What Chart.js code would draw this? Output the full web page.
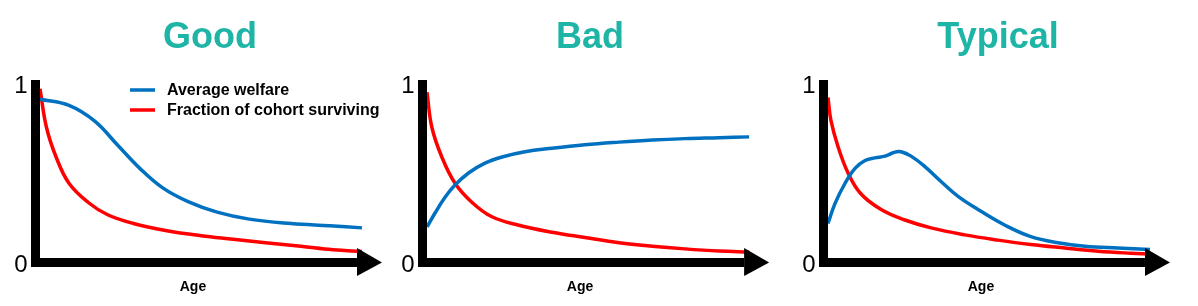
<!DOCTYPE html>
<html>
<head>
<meta charset="utf-8">
<script src="https://cdn.jsdelivr.net/npm/chart.js@4.4.1/dist/chart.umd.min.js"></script>
<style>
body { margin: 0; background: #fff; width: 1198px; height: 306px; overflow: hidden; position: relative; }
canvas { position: absolute; top: 0; }
</style>
</head>
<body>
<canvas id="goodChart" width="400" height="306" style="left:0px"></canvas>
<canvas id="badChart" width="400" height="306" style="left:400px"></canvas>
<canvas id="typicalChart" width="400" height="306" style="left:798px"></canvas>
<script>
// Panel titles and labels
var panelTitles = ['Good', 'Bad', 'Typical'];
var seriesNames = ['Average welfare', 'Fraction of cohort surviving'];
var yTickValues = [0, 1];
var yTickLabels = ['0', '1'];
var xAxisLabel = 'Age';

// Good: welfare stays high, falls late
var goodWelfareAge = [0, 9, 17, 24, 31, 38, 46, 55, 65, 78, 90, 100];
var goodWelfare    = [0.93, 0.895, 0.805, 0.67, 0.535, 0.425, 0.345, 0.285, 0.245, 0.22, 0.207, 0.195];
var goodSurvAge    = [0, 2, 5, 9, 15, 21, 29, 39, 50, 60, 70, 81, 91, 100];
var goodSurvival   = [0.99, 0.77, 0.60, 0.45, 0.34, 0.27, 0.22, 0.18, 0.15, 0.13, 0.11, 0.09, 0.07, 0.06];

// Bad: welfare starts low, rises
var badWelfareAge  = [0, 2.5, 5.6, 8.7, 13, 18, 23.3, 30.4, 38.8, 49, 59.6, 69.9, 80.1, 90.7, 100];
var badWelfare     = [0.20, 0.28, 0.37, 0.44, 0.51, 0.565, 0.60, 0.63, 0.65, 0.67, 0.685, 0.697, 0.705, 0.71, 0.715];
var badSurvAge     = [0, 1.5, 4.6, 8.7, 14, 20, 28.5, 38.8, 49, 59.6, 69.9, 80, 90.7, 100];
var badSurvival    = [0.97, 0.77, 0.60, 0.45, 0.34, 0.26, 0.21, 0.17, 0.14, 0.11, 0.09, 0.075, 0.063, 0.057];

// Typical: welfare rises, peaks early, then declines
var typWelfareAge  = [0, 2.2, 5.3, 8.4, 11.5, 14.6, 17.7, 20.8, 22.7, 25.8, 30.1, 35.1, 40.4, 47.5, 55, 63, 71.4, 79.8, 90, 100];
var typWelfare     = [0.22, 0.335, 0.45, 0.535, 0.58, 0.595, 0.605, 0.628, 0.63, 0.605, 0.545, 0.46, 0.375, 0.29, 0.21, 0.145, 0.11, 0.09, 0.08, 0.072];
var typSurvAge     = [0, 0.9, 3.1, 6.2, 10.2, 16.5, 23.9, 32, 42.5, 52.8, 63, 73.6, 83.9, 94.1, 100];
var typSurvival    = [0.94, 0.81, 0.66, 0.51, 0.39, 0.30, 0.24, 0.195, 0.155, 0.125, 0.10, 0.08, 0.062, 0.05, 0.045];

var welfareColor = '#0070c0';
var survivalColor = '#ff0000';
var titleColor = '#1fb5a6';
var fontName = '"Liberation Sans", Arial, sans-serif';

function toPoints(xs, ys) {
    return xs.map(function (x, i) { return { x: x, y: ys[i] }; });
}

// thick axes, arrow head, tick labels, Age label and (optionally) legend
var axesArrow = {
    id: 'axesArrow',
    afterDraw: function (chart, args, opts) {
        var ctx = chart.ctx;
        var xs = chart.scales.x, ys = chart.scales.y;
        var left = xs.getPixelForValue(0);
        var end = xs.getPixelForValue(100);
        var y0 = ys.getPixelForValue(0);
        var y1 = ys.getPixelForValue(1);
        ctx.save();
        ctx.fillStyle = '#000';
        // vertical bar
        ctx.fillRect(left - 9, y1 - 7, 9, y0 + 5 - (y1 - 7));
        // horizontal bar
        ctx.fillRect(left - 9, y0 - 4, end - 5 - (left - 9), 9);
        // arrow head
        ctx.beginPath();
        ctx.moveTo(end - 5, y0 - 14);
        ctx.lineTo(end + 20, y0 + 0.5);
        ctx.lineTo(end - 5, y0 + 14);
        ctx.closePath();
        ctx.fill();

        // tick labels
        ctx.font = '24px ' + fontName;
        ctx.textAlign = 'center';
        ctx.textBaseline = 'alphabetic';
        yTickValues.forEach(function (v, i) {
            var py = ys.getPixelForValue(v) + (v === 0 ? 10 : 6);
            ctx.fillText(yTickLabels[i], left - 19, py);
        });

        // x axis label
        ctx.font = 'bold 14px ' + fontName;
        ctx.fillText(xAxisLabel, (left + end) / 2 - 8, y0 + 29);

        // legend
        if (opts.legend) {
            ctx.textAlign = 'left';
            ctx.font = 'bold 16px ' + fontName;
            chart.data.datasets.forEach(function (ds, i) {
                var ly = y1 + 3 + i * 20;
                ctx.fillStyle = ds.borderColor;
                ctx.fillRect(left + 90, ly - 1.75, 25, 3.5);
                ctx.fillStyle = '#000';
                ctx.fillText(ds.label, left + 127, ly + 4.5 + i * 0.5);
            });
        }
        ctx.restore();
    }
};

function makeChart(id, title, welfare, survival, layout, showLegend) {
    var ctx = document.getElementById(id).getContext('2d');
    return new Chart(ctx, {
        type: 'line',
        data: {
            datasets: [{
                label: seriesNames[0],
                data: welfare,
                borderColor: welfareColor,
                borderWidth: 3.5,
                pointRadius: 0,
                tension: 0.4,
                clip: false
            }, {
                label: seriesNames[1],
                data: survival,
                borderColor: survivalColor,
                borderWidth: 3.5,
                pointRadius: 0,
                tension: 0.4,
                clip: false
            }]
        },
        options: {
            responsive: false,
            animation: false,
            layout: { padding: { left: layout.left, right: layout.right, top: 0, bottom: 44 } },
            scales: {
                x: { type: 'linear', min: 0, max: layout.xMax, display: false },
                y: { min: 0, max: 1, display: false }
            },
            plugins: {
                legend: { display: false },
                tooltip: { enabled: false },
                title: {
                    display: true,
                    text: title,
                    color: titleColor,
                    font: { family: fontName, size: 36, weight: 'bold' },
                    padding: { top: 16, bottom: 27.8 }
                },
                axesArrow: { legend: showLegend }
            }
        },
        plugins: [axesArrow]
    });
}

makeChart('goodChart', panelTitles[0],
    toPoints(goodWelfareAge, goodWelfare), toPoints(goodSurvAge, goodSurvival),
    { left: 40, right: 20, xMax: 105.6 }, true);
makeChart('badChart', panelTitles[1],
    toPoints(badWelfareAge, badWelfare), toPoints(badSurvAge, badSurvival),
    { left: 27, right: 47, xMax: 101.2 }, false);
makeChart('typicalChart', panelTitles[2],
    toPoints(typWelfareAge, typWelfare), toPoints(typSurvAge, typSurvival),
    { left: 30, right: 30, xMax: 105.6 }, false);
</script>
</body>
</html>
